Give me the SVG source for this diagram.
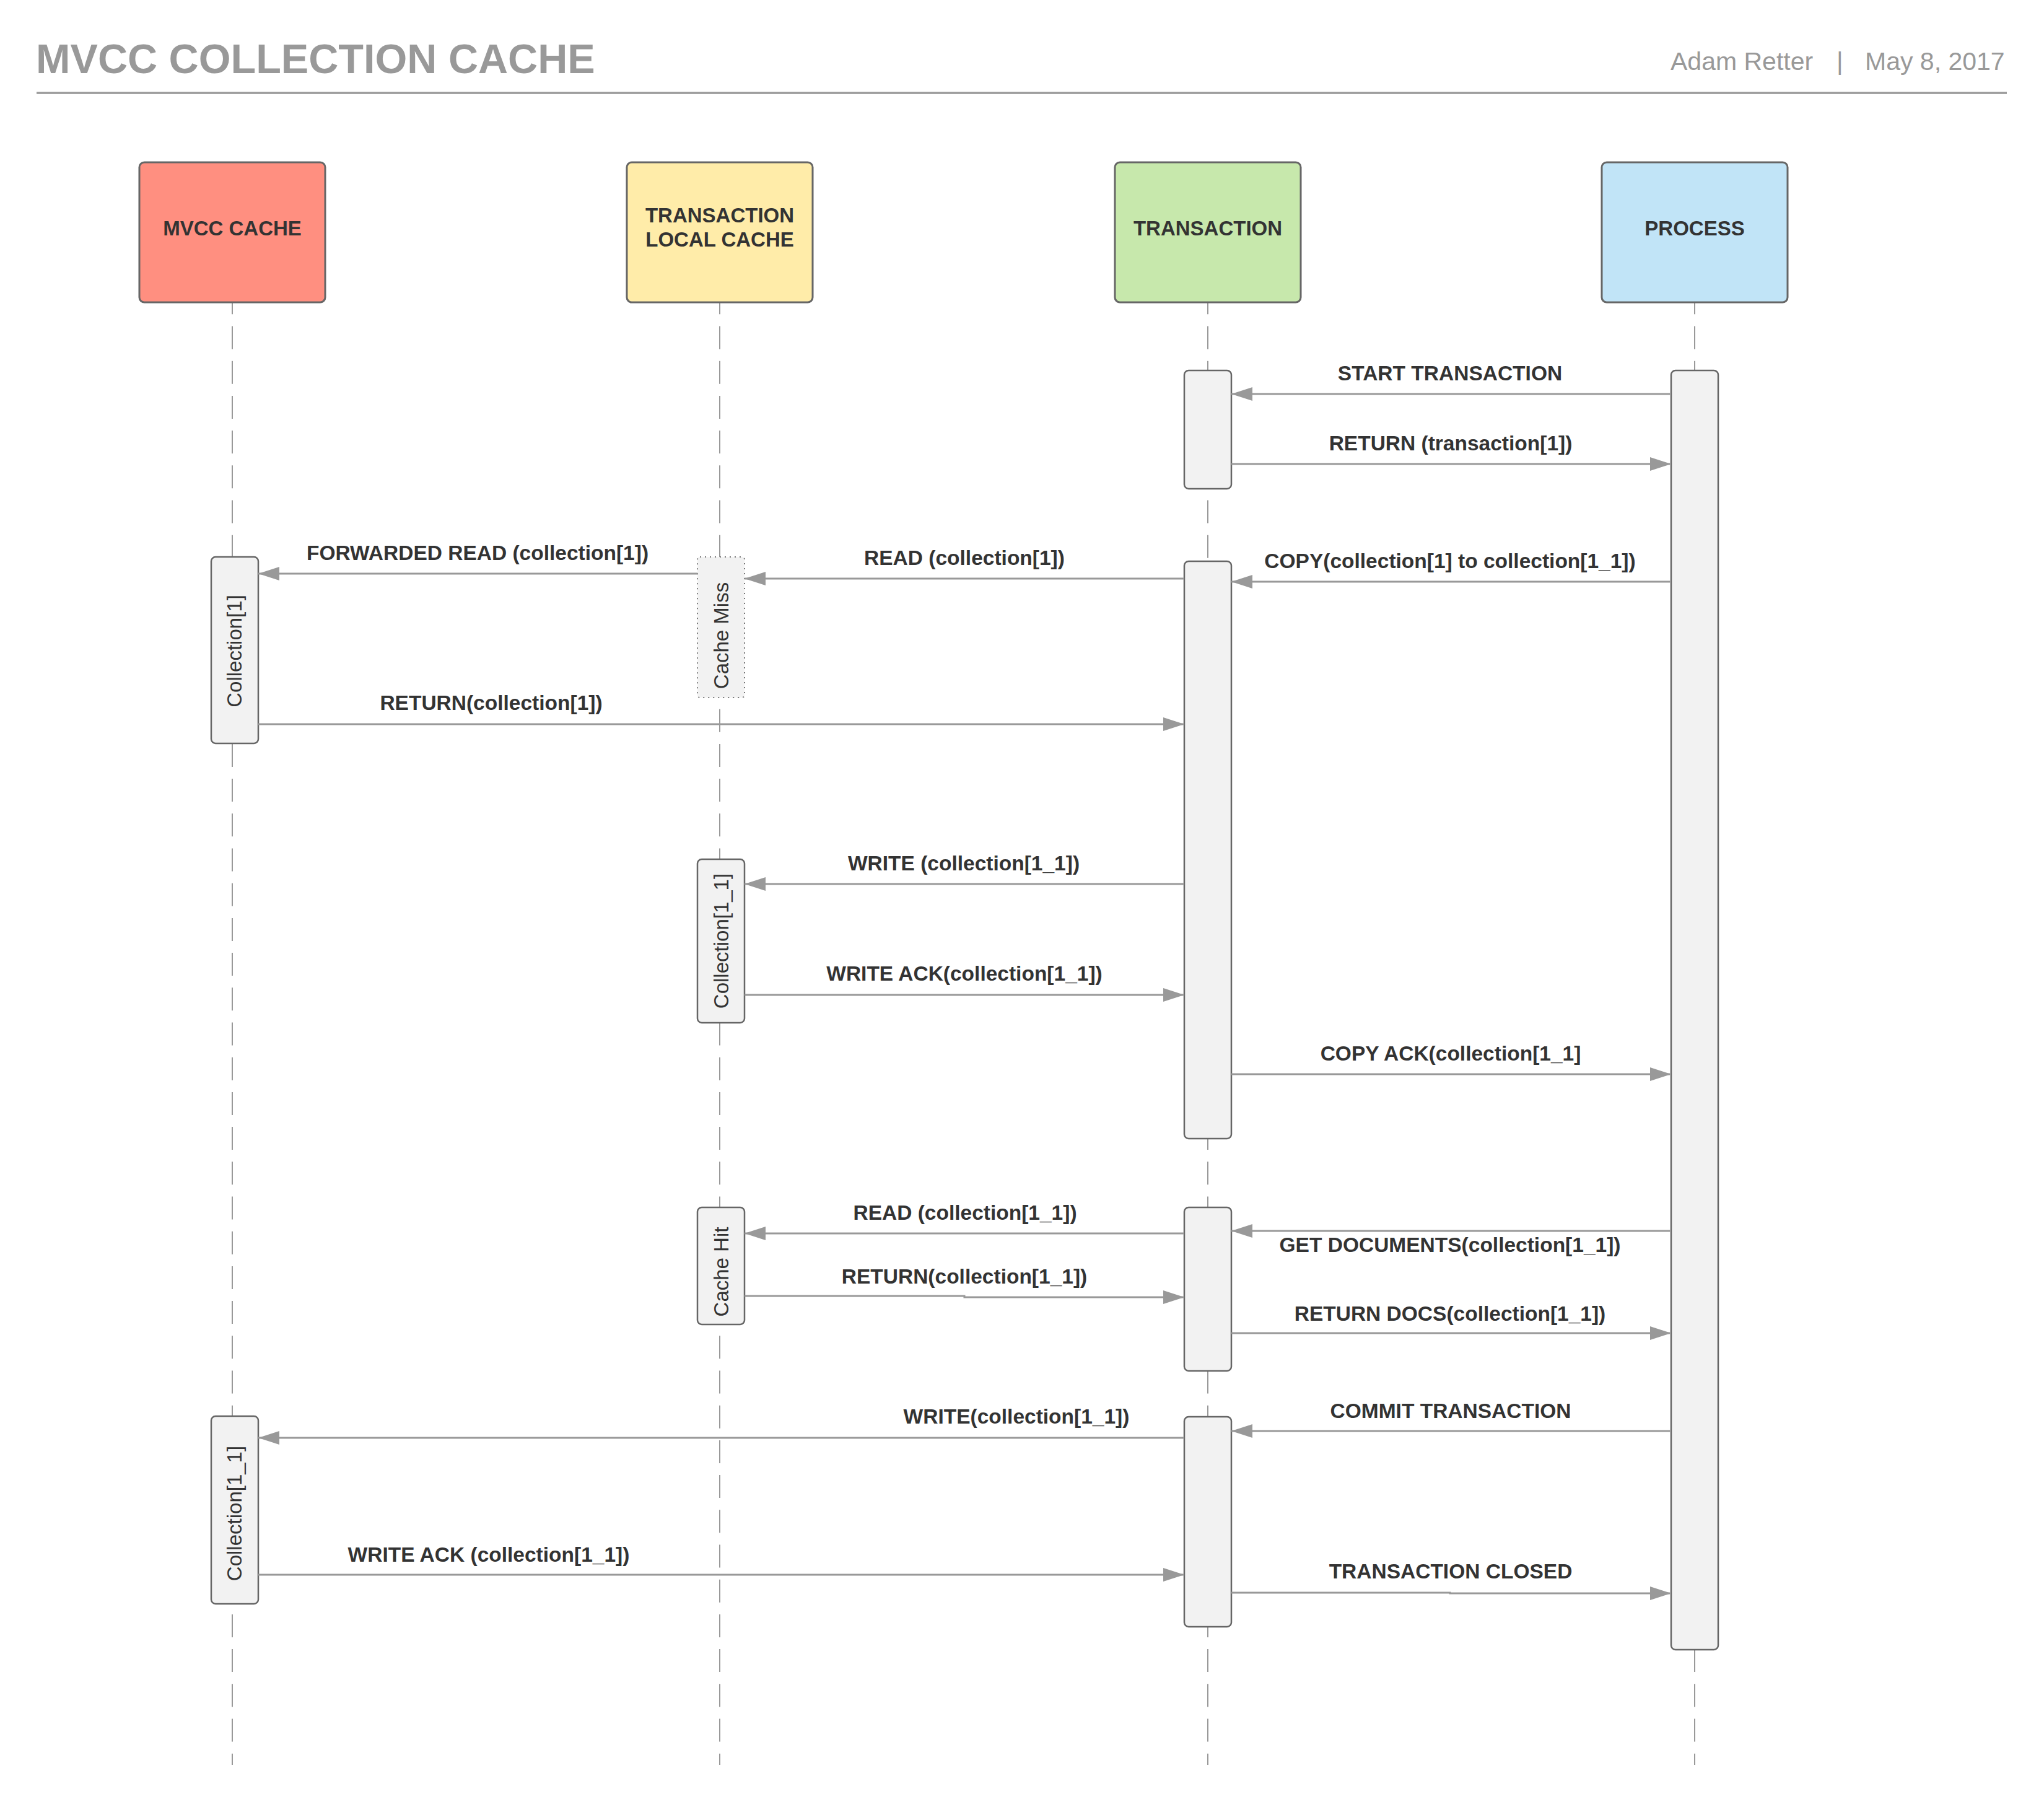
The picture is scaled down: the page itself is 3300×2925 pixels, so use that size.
<svg xmlns="http://www.w3.org/2000/svg" width="3300" height="2925" viewBox="0 0 3300 2925">
  <style>
    .title { font-family: "Liberation Sans", Arial, sans-serif; font-weight: bold; font-size: 66.6px; fill: #999999; }
    .meta { font-family: "Liberation Sans", Arial, sans-serif; font-size: 41px; fill: #999999; }
    .node { stroke: #666666; stroke-width: 3; }
    .nlabel { font-family: "Liberation Sans", Arial, sans-serif; font-weight: bold; font-size: 33px; fill: #333333; text-anchor: middle; }
    .life { stroke: #999999; stroke-width: 2; stroke-dasharray: 37 19.2; stroke-dashoffset: 17.7; fill: none; }
    .act { fill: #f2f2f2; stroke: #666666; stroke-width: 2.5; }
    .actd { fill: #f2f2f2; stroke: #777777; stroke-width: 2; stroke-dasharray: 2 6; }
    .vlabel { font-family: "Liberation Sans", Arial, sans-serif; font-size: 33px; fill: #333333; text-anchor: middle; }
    .msg { stroke: #999999; stroke-width: 3; fill: none; marker-end: url(#arrow); }
    .mlabel { font-family: "Liberation Sans", Arial, sans-serif; font-weight: bold; font-size: 33.5px; fill: #333333; text-anchor: middle; }
  </style>
  <defs>
    <marker id="arrow" markerUnits="userSpaceOnUse" markerWidth="34" markerHeight="22" refX="34" refY="11" orient="auto">
      <path d="M0,0 L34,11 L0,22 Z" fill="#999999"/>
    </marker>
  </defs>
  <rect x="0" y="0" width="3300" height="2925" fill="#ffffff"/>

  <g id="header">
    <text class="title" x="58" y="118">MVCC COLLECTION CACHE</text>
    <text class="meta" y="113"><tspan x="2697">Adam Retter</tspan><tspan x="2965">|</tspan><tspan x="3011">May 8, 2017</tspan></text>
    <line x1="59" y1="150" x2="3240" y2="150" stroke="#999999" stroke-width="3.5"/>
  </g>

  <g id="node-mvcc-cache">
    <line class="life" x1="375" y1="488" x2="375" y2="2849"/>
    <rect class="node" x="225" y="262" width="300" height="226" rx="8" fill="#FF8F80"/>
    <text class="nlabel" x="375" y="380">MVCC CACHE</text>
  </g>
  <g id="node-transaction-local-cache">
    <line class="life" x1="1162" y1="488" x2="1162" y2="2849"/>
    <rect class="node" x="1012" y="262" width="300" height="226" rx="8" fill="#FFECA9"/>
    <text class="nlabel" x="1162" y="359">TRANSACTION</text>
    <text class="nlabel" x="1162" y="398">LOCAL CACHE</text>
  </g>
  <g id="node-transaction">
    <line class="life" x1="1950" y1="488" x2="1950" y2="2849"/>
    <rect class="node" x="1800" y="262" width="300" height="226" rx="8" fill="#C7E8AC"/>
    <text class="nlabel" x="1950" y="380">TRANSACTION</text>
  </g>
  <g id="node-process">
    <line class="life" x1="2736" y1="488" x2="2736" y2="2849"/>
    <rect class="node" x="2586" y="262" width="300" height="226" rx="8" fill="#C1E4F7"/>
    <text class="nlabel" x="2736" y="380">PROCESS</text>
  </g>

  <g id="act-process">
    <rect class="act" x="2698" y="598" width="76" height="2065" rx="7"/>
  </g>
  <g id="act-transaction-1">
    <rect class="act" x="1912" y="598" width="76" height="191" rx="7"/>
  </g>
  <g id="act-transaction-2">
    <rect class="act" x="1912" y="906" width="76" height="932" rx="7"/>
  </g>
  <g id="act-transaction-3">
    <rect class="act" x="1912" y="1949" width="76" height="264" rx="7"/>
  </g>
  <g id="act-transaction-4">
    <rect class="act" x="1912" y="2287" width="76" height="339" rx="7"/>
  </g>
  <g id="act-cache-miss">
    <rect class="actd" x="1126" y="899" width="76" height="227" rx="4"/>
    <text class="vlabel" transform="translate(1164,1026) rotate(-90)" y="12">Cache Miss</text>
  </g>
  <g id="act-collection-1">
    <rect class="act" x="341" y="899" width="76" height="301" rx="7"/>
    <text class="vlabel" transform="translate(378,1051) rotate(-90)" y="12">Collection[1]</text>
  </g>
  <g id="act-local-collection-1-1">
    <rect class="act" x="1126" y="1387" width="76" height="264" rx="7"/>
    <text class="vlabel" transform="translate(1164,1519) rotate(-90)" y="12">Collection[1_1]</text>
  </g>
  <g id="act-cache-hit">
    <rect class="act" x="1126" y="1949" width="76" height="189" rx="7"/>
    <text class="vlabel" transform="translate(1164,2053) rotate(-90)" y="12">Cache Hit</text>
  </g>
  <g id="act-collection-1-1">
    <rect class="act" x="341" y="2286" width="76" height="303" rx="7"/>
    <text class="vlabel" transform="translate(378,2443) rotate(-90)" y="12">Collection[1_1]</text>
  </g>

  <g id="connectors">
    <line class="msg" x1="2698" y1="636" x2="1988" y2="636"/>
    <text class="mlabel" x="2341" y="614">START TRANSACTION</text>

    <line class="msg" x1="1988" y1="749" x2="2698" y2="749"/>
    <text class="mlabel" x="2342" y="727">RETURN (transaction[1])</text>

    <line class="msg" x1="2698" y1="939" x2="1988" y2="939"/>
    <text class="mlabel" x="2341" y="917">COPY(collection[1] to collection[1_1])</text>

    <line class="msg" x1="1912" y1="934" x2="1202" y2="934"/>
    <text class="mlabel" x="1557" y="912">READ (collection[1])</text>

    <line class="msg" x1="1126" y1="926" x2="417" y2="926"/>
    <text class="mlabel" x="771" y="904">FORWARDED READ (collection[1])</text>

    <line class="msg" x1="417" y1="1169" x2="1912" y2="1169"/>
    <text class="mlabel" x="793" y="1146">RETURN(collection[1])</text>

    <line class="msg" x1="1912" y1="1427" x2="1202" y2="1427"/>
    <text class="mlabel" x="1556" y="1405">WRITE (collection[1_1])</text>

    <line class="msg" x1="1202" y1="1606" x2="1912" y2="1606"/>
    <text class="mlabel" x="1557" y="1583">WRITE ACK(collection[1_1])</text>

    <line class="msg" x1="1988" y1="1734" x2="2698" y2="1734"/>
    <text class="mlabel" x="2342" y="1712">COPY ACK(collection[1_1]</text>

    <line class="msg" x1="1912" y1="1991" x2="1202" y2="1991"/>
    <text class="mlabel" x="1558" y="1969">READ (collection[1_1])</text>

    <line class="msg" x1="2698" y1="1987" x2="1988" y2="1987"/>
    <text class="mlabel" x="2341" y="2021">GET DOCUMENTS(collection[1_1])</text>

    <polyline class="msg" points="1202,2092 1557,2092 1557,2094 1912,2094"/>
    <text class="mlabel" x="1557" y="2072">RETURN(collection[1_1])</text>

    <line class="msg" x1="1988" y1="2152" x2="2698" y2="2152"/>
    <text class="mlabel" x="2341" y="2132">RETURN DOCS(collection[1_1])</text>

    <line class="msg" x1="2698" y1="2310" x2="1988" y2="2310"/>
    <text class="mlabel" x="2342" y="2289">COMMIT TRANSACTION</text>

    <line class="msg" x1="1912" y1="2321" x2="417" y2="2321"/>
    <text class="mlabel" x="1641" y="2298">WRITE(collection[1_1])</text>

    <line class="msg" x1="417" y1="2542" x2="1912" y2="2542"/>
    <text class="mlabel" x="789" y="2521">WRITE ACK (collection[1_1])</text>

    <polyline class="msg" points="1988,2571 2341,2571 2341,2572 2698,2572"/>
    <text class="mlabel" x="2342" y="2548">TRANSACTION CLOSED</text>
  </g>
</svg>
